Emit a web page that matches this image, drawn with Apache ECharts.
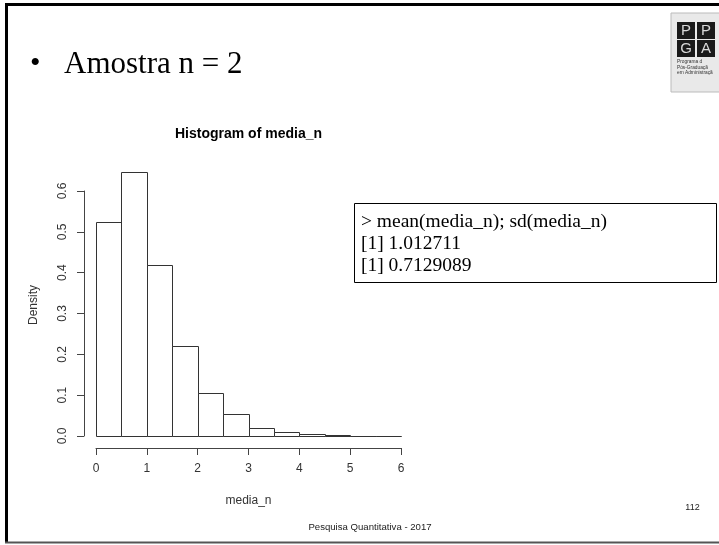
<!DOCTYPE html>
<html><head><meta charset="utf-8">
<script src="https://cdn.jsdelivr.net/npm/echarts@6/dist/echarts.min.js"></script>
<style>html,body{margin:0;padding:0;background:#fff}#c{width:719px;height:545px}</style>
</head><body><div id="c"></div>
<script>
// ---- data ----
const binStarts = [0, 0.5, 1, 1.5, 2, 2.5, 3, 3.5, 4, 4.5, 5, 5.5];
const binWidth = 0.5;
const densities = [0.525, 0.646, 0.419, 0.220, 0.105, 0.053, 0.020, 0.010, 0.004, 0.0015, 0.0008, 0.0005];
const xTickValues = [0, 1, 2, 3, 4, 5, 6];
const yTickLabels = ['0.0', '0.1', '0.2', '0.3', '0.4', '0.5', '0.6'];
const chartTitle = 'Histogram of media_n';
const xName = 'media_n';
const yName = 'Density';
const slideHeading = 'Amostra n = 2';
const consoleLines = ['> mean(media_n); sd(media_n)', '[1] 1.012711', '[1] 0.7129089'];
const footerText = 'Pesquisa Quantitativa - 2017';
const pageNumber = '112';
const logoLetters = ['P', 'P', 'G', 'A'];
const logoLines = ['Programa d', 'Pós-Graduaçã', 'em Administraçã'];

const sans = '"Liberation Sans", Arial, sans-serif';
const serif = '"Liberation Serif", "Times New Roman", serif';

const chart = echarts.init(document.getElementById('c'), null, {renderer: 'canvas'});

const barData = binStarts.map((s, i) => [s, s + binWidth, densities[i]]);

const graphics = [];
// slide frame
graphics.push({type: 'line', shape: {x1: 6.5, y1: 3, x2: 6.5, y2: 543}, style: {stroke: '#000', lineWidth: 3}, silent: true});
graphics.push({type: 'line', shape: {x1: 5, y1: 4.5, x2: 719, y2: 4.5}, style: {stroke: '#000', lineWidth: 3}, silent: true});
graphics.push({type: 'line', shape: {x1: 5, y1: 542.5, x2: 719, y2: 542.5}, style: {stroke: '#555', lineWidth: 2}, silent: true});
// heading
graphics.push({type: 'text', x: 30, y: 64, style: {text: '•', font: '30px ' + serif, fill: '#000', textVerticalAlign: 'middle'}});
graphics.push({type: 'text', x: 64, y: 65, style: {text: slideHeading, font: '31px ' + serif, fill: '#000', textVerticalAlign: 'middle'}});
// chart title
graphics.push({type: 'text', x: 248.5, y: 134, style: {text: chartTitle, font: 'bold 14px ' + sans, fill: '#000', textAlign: 'center', textVerticalAlign: 'middle'}});
// y axis title
graphics.push({type: 'text', x: 34, y: 305, rotation: Math.PI / 2, style: {text: yName, font: '12px ' + sans, fill: '#333', textAlign: 'center', textVerticalAlign: 'middle'}});
// console box
graphics.push({type: 'rect', shape: {x: 354.5, y: 203.5, width: 362, height: 79}, style: {fill: '#fff', stroke: '#000', lineWidth: 1}});
consoleLines.forEach((t, i) => {
  graphics.push({type: 'text', x: 361, y: 222 + i * 22, style: {text: t, font: '19.5px ' + serif, fill: '#000', textVerticalAlign: 'middle'}});
});
// footer
graphics.push({type: 'text', x: 370, y: 527, style: {text: footerText, font: '9.6px ' + sans, fill: '#222', textAlign: 'center', textVerticalAlign: 'middle'}});
graphics.push({type: 'text', x: 692.5, y: 508, style: {text: pageNumber, font: '9px ' + sans, fill: '#222', textAlign: 'center', textVerticalAlign: 'middle'}});
// logo
graphics.push({type: 'rect', shape: {x: 671, y: 13, width: 50, height: 79}, style: {fill: '#e9e9e9', stroke: '#bbb', lineWidth: 1}});
logoLetters.forEach((l, i) => {
  const cx = 677 + (i % 2) * 20, cy = 22 + Math.floor(i / 2) * 18;
  graphics.push({type: 'rect', shape: {x: cx, y: cy, width: 18, height: 17}, style: {fill: '#1a1a1a'}});
  graphics.push({type: 'text', x: cx + 9, y: cy + 9, style: {text: l, font: '15px ' + sans, fill: '#d8d8d8', textAlign: 'center', textVerticalAlign: 'middle'}});
});
logoLines.forEach((t, i) => {
  graphics.push({type: 'text', x: 677, y: 62 + i * 5.5, style: {text: t, font: '4.8px ' + sans, fill: '#333', textVerticalAlign: 'middle'}});
});

chart.setOption({
  animation: false,
  backgroundColor: '#fff',
  grid: {left: 96, right: 318, top: 191, bottom: 109, containLabel: false},
  xAxis: {
    type: 'value', min: 0, max: 6, interval: 1, offset: 12,
    axisLine: {show: true, onZero: false, lineStyle: {color: '#444', width: 1}},
    axisTick: {show: true, length: 7, lineStyle: {color: '#444'}},
    axisLabel: {show: true, margin: 15, fontSize: 12, color: '#333', fontFamily: sans,
      formatter: v => xTickValues.includes(v) ? String(v) : ''},
    splitLine: {show: false},
    name: xName, nameLocation: 'middle', nameGap: 47,
    nameTextStyle: {fontSize: 12, color: '#333', fontFamily: sans}
  },
  yAxis: {
    type: 'value', min: 0, max: 0.6, interval: 0.1, offset: 12,
    axisLine: {show: true, onZero: false, lineStyle: {color: '#444', width: 1}},
    axisTick: {show: true, length: 7, lineStyle: {color: '#444'}},
    axisLabel: {show: true, rotate: 90, margin: 15, fontSize: 12, color: '#333', fontFamily: sans,
      formatter: v => yTickLabels[Math.round(v * 10)] || ''},
    splitLine: {show: false}
  },
  series: [{
    type: 'custom',
    clip: false,
    data: barData,
    encode: {x: [0, 1], y: 2},
    renderItem: (params, api) => {
      const p0 = api.coord([api.value(0), 0]);
      const p1 = api.coord([api.value(1), api.value(2)]);
      return {
        type: 'rect',
        shape: {x: Math.round(p0[0]) + 0.5, y: Math.round(p1[1]) + 0.5, width: Math.round(p1[0]) - Math.round(p0[0]), height: Math.round(p0[1]) - Math.round(p1[1])},
        style: {fill: '#fff', stroke: '#333', lineWidth: 1}
      };
    }
  }],
  graphic: graphics
});
</script>
</body></html>
